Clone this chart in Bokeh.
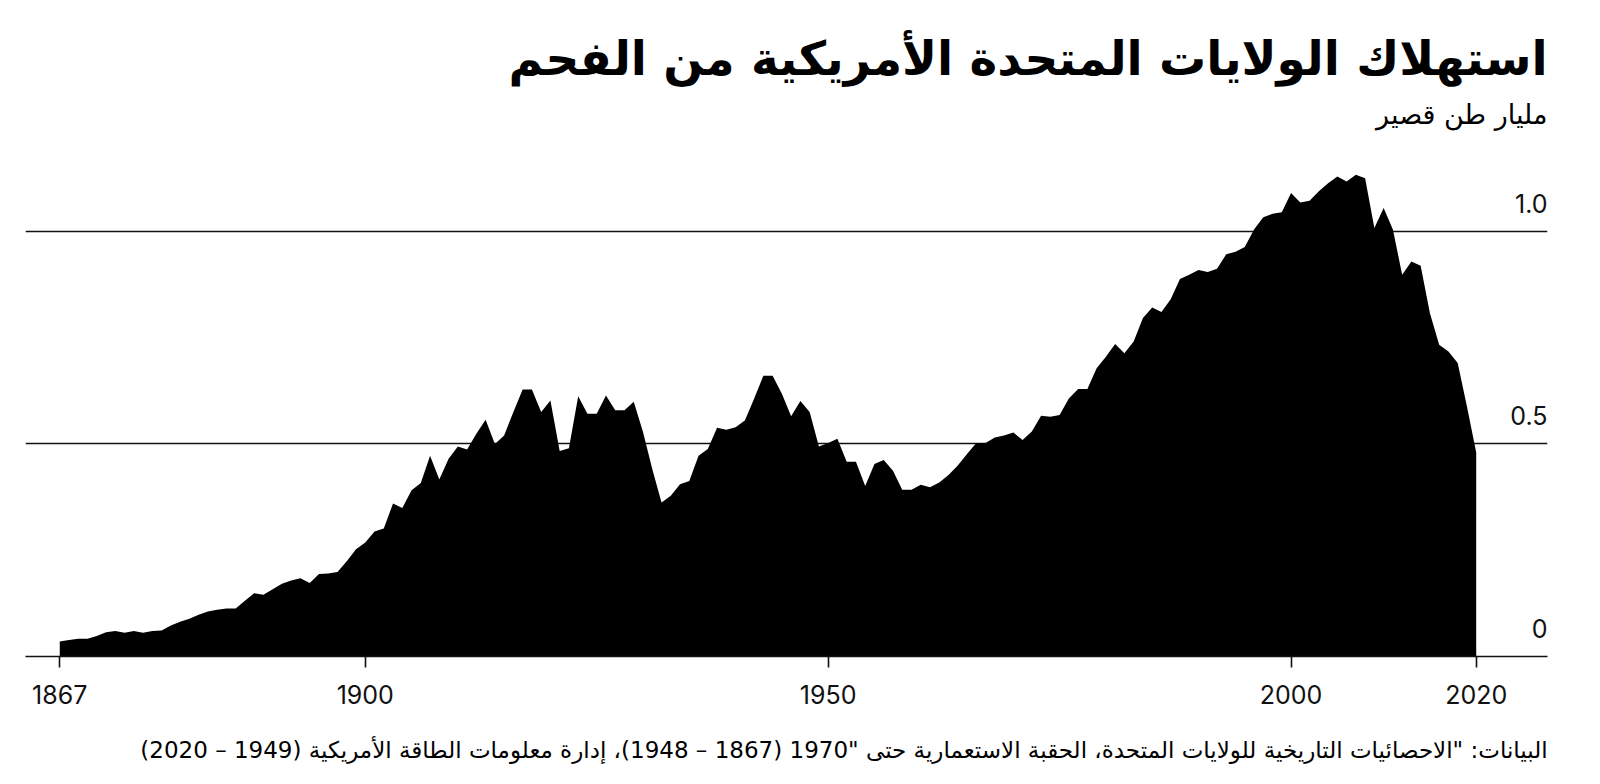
from bokeh.plotting import figure
from bokeh.layouts import column
from bokeh.models import FixedTicker, Range1d, ColumnDataSource
from bokeh.core.properties import value
from bokeh.embed import file_html
from bokeh.resources import INLINE

# ---- data (billion short tons) ----
years = list(range(1867, 2021))
consumption = [
    0.035, 0.039, 0.042, 0.042, 0.048, 0.057, 0.060, 0.056, 0.060, 0.056,   # 1867-1876
    0.060, 0.061, 0.073, 0.082, 0.089, 0.098, 0.106, 0.110, 0.113, 0.113,   # 1877-1886
    0.131, 0.149, 0.145, 0.158, 0.171, 0.179, 0.184, 0.173, 0.194, 0.195,   # 1887-1896
    0.199, 0.224, 0.252, 0.268, 0.294, 0.301, 0.360, 0.349, 0.391, 0.408,   # 1897-1906
    0.472, 0.416, 0.465, 0.494, 0.487, 0.524, 0.557, 0.500, 0.520, 0.575,   # 1907-1916
    0.628, 0.628, 0.575, 0.602, 0.483, 0.490, 0.612, 0.571, 0.571, 0.614,   # 1917-1926
    0.579, 0.579, 0.599, 0.528, 0.441, 0.362, 0.378, 0.405, 0.413, 0.472,   # 1927-1936
    0.488, 0.538, 0.533, 0.539, 0.555, 0.606, 0.660, 0.660, 0.618, 0.565,   # 1937-1946
    0.601, 0.575, 0.494, 0.502, 0.512, 0.458, 0.458, 0.401, 0.453, 0.462,   # 1947-1956
    0.437, 0.392, 0.392, 0.404, 0.398, 0.409, 0.427, 0.449, 0.476, 0.502,   # 1957-1966
    0.502, 0.515, 0.520, 0.527, 0.509, 0.529, 0.566, 0.564, 0.568, 0.607,   # 1967-1976
    0.629, 0.629, 0.678, 0.705, 0.735, 0.713, 0.741, 0.796, 0.821, 0.810,   # 1977-1986
    0.840, 0.888, 0.898, 0.909, 0.904, 0.912, 0.946, 0.952, 0.963, 1.004,   # 1987-1996
    1.033, 1.041, 1.045, 1.090, 1.068, 1.072, 1.094, 1.113, 1.129, 1.117,   # 1997-2006
    1.133, 1.125, 1.008, 1.055, 1.004, 0.898, 0.929, 0.919, 0.807, 0.733,   # 2007-2016
    0.717, 0.690, 0.588, 0.480,                                             # 2017-2020
]
x_ticks = [1867, 1900, 1950, 2000, 2020]
y_ticks = [0, 0.5, 1.0]
y_tick_labels = ["0", "0.5", "1.0"]
grid_ticks = [0.5, 1.0]

title_text = "استهلاك الولايات المتحدة الأمريكية من الفحم"
subtitle_text = "مليار طن قصير"
source_text = ("البيانات: \"الاحصائيات التاريخية للولايات المتحدة، الحقبة الاستعمارية حتى \"1970 "
               "(1867 – 1948)، إدارة معلومات الطاقة الأمريكية (1949 – 2020)")

ARABIC_FONT = "DejaVu Sans"
LATIN_FONT = "Inter"
W = 1600
HEADER_H, MAIN_H, FOOTER_H = 150, 570, 64
BORDER_L, BORDER_R = 25, 53
FRAME_L, FRAME_R = BORDER_L, W - BORDER_R


def text_panel(height):
    # same left/right borders as the chart, so that data x == page pixel x
    f = figure(width=W, height=height, output_backend="svg", toolbar_location=None,
               x_range=Range1d(FRAME_L, FRAME_R), y_range=Range1d(height, 0),
               x_axis_location=None, y_axis_location=None,
               min_border_left=BORDER_L, min_border_right=BORDER_R,
               min_border_top=0, min_border_bottom=0,
               background_fill_color="white", border_fill_color="white",
               outline_line_color=None)
    f.grid.visible = False
    return f


# ---- header ----
header = text_panel(HEADER_H)
header.text(x=[FRAME_R], y=[58], text=[title_text], text_align="right",
            text_baseline="alphabetic", text_font=value(ARABIC_FONT), text_font_size="47px",
            text_font_style="bold", text_color="black")
header.text(x=[FRAME_R], y=[114], text=[subtitle_text], text_align="right",
            text_baseline="alphabetic", text_font=value(ARABIC_FONT), text_font_size="27px",
            text_color="black")

# ---- main chart ----
X0, X1 = 1863.3, 2027.7
Y0, Y1 = 0.0, 1.19

p = figure(width=W, height=MAIN_H, output_backend="svg", toolbar_location=None,
           x_range=Range1d(X0, X1), y_range=Range1d(Y0, Y1),
           y_axis_location=None,
           min_border_left=BORDER_L, min_border_right=BORDER_R, min_border_top=0, min_border_bottom=64,
           background_fill_color="white", border_fill_color="white", outline_line_color=None)

p.xgrid.visible = False
for g in p.ygrid:
    g.ticker = FixedTicker(ticks=grid_ticks)
    g.grid_line_color = "#111111"
    g.grid_line_width = 1.6
    g.grid_line_alpha = 1.0

src = ColumnDataSource(dict(year=years, value=consumption))
p.varea(x="year", y1=0, y2="value", source=src, fill_color="black", fill_alpha=1.0)

ax = p.xaxis[0]
ax.ticker = FixedTicker(ticks=x_ticks)
ax.axis_line_color = "#111111"
ax.axis_line_width = 1.6
ax.major_tick_line_color = "#111111"
ax.major_tick_line_width = 1.6
ax.major_tick_out = 11
ax.major_tick_in = 0
ax.minor_tick_out = 0
ax.minor_tick_in = 0
ax.major_label_standoff = 17
ax.major_label_text_font = LATIN_FONT
ax.major_label_text_font_size = "25px"
ax.major_label_text_color = "#111111"

ysrc = ColumnDataSource(dict(x=[X1] * len(y_ticks), y=y_ticks, t=y_tick_labels))
p.text(x="x", y="y", text="t", source=ysrc, text_align="right", text_baseline="alphabetic",
       y_offset=-28, text_font=value(LATIN_FONT), text_font_size="25px", text_color="#111111")

# ---- footer ----
footer = text_panel(FOOTER_H)
footer.text(x=[FRAME_R], y=[29], text=["\u202b" + source_text + "\u202c"],
            text_align="right", text_baseline="alphabetic", text_font=value(ARABIC_FONT),
            text_font_size="23px", text_color="black")

layout = column(header, p, footer, spacing=0)
open("out.html", "w").write(file_html(layout, INLINE))
